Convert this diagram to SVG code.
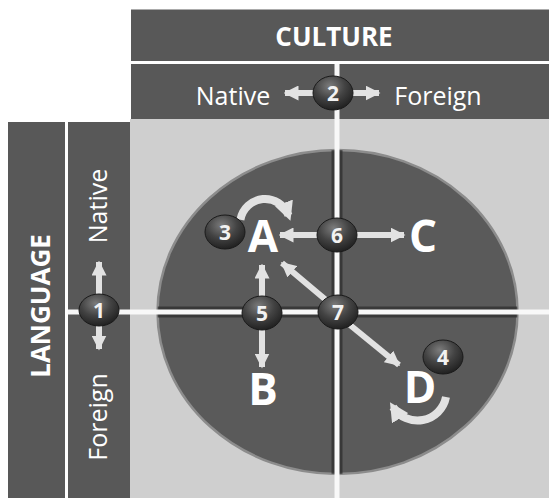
<svg xmlns="http://www.w3.org/2000/svg" width="549" height="498" viewBox="0 0 549 498">
  <defs>
    <radialGradient id="ball" cx="42%" cy="30%" r="75%">
      <stop offset="0" stop-color="#7c7c7c"/>
      <stop offset="0.5" stop-color="#434343"/>
      <stop offset="1" stop-color="#1c1c1c"/>
    </radialGradient>
    <marker id="head" viewBox="0 0 10 10" refX="9" refY="5" markerWidth="15" markerHeight="15" markerUnits="userSpaceOnUse" orient="auto">
      <path d="M0,0 L10,5 L0,10 Z" fill="#e2e2e2"/>
    </marker>
    <marker id="headBig" viewBox="0 0 10 10" refX="7" refY="5" markerWidth="19" markerHeight="19" markerUnits="userSpaceOnUse" orient="auto">
      <path d="M0,0 L10,5 L0,10 Z" fill="#e2e2e2"/>
    </marker>
    <clipPath id="disc">
      <ellipse cx="337.5" cy="312" rx="180" ry="162"/>
    </clipPath>
  </defs>
  <style>
    .bar{fill:#585858}
    .txt{font-family:"Open Sans","DejaVu Sans",sans-serif;fill:#ffffff;text-anchor:middle}
    .hdr{font-weight:700;font-size:26px}
    .lbl{font-size:25px}
    .big{font-weight:700;font-size:44px}
    .num{font-weight:700;font-size:21px;fill:#f2f2f2}
    .ball{fill:url(#ball);stroke:#1a1a1a;stroke-width:1}
    .arr{stroke:#e2e2e2;stroke-width:6;fill:none;marker-end:url(#head)}
    .loop{stroke:#e2e2e2;stroke-width:8;fill:none;marker-end:url(#headBig)}
    .rule{stroke:#f8f8f8;stroke-width:5}
    .shade{stroke:#2e2e2e;stroke-width:11;opacity:0.75}
  </style>

  <!-- page background and grey field -->
  <rect width="549" height="498" fill="#ffffff"/>
  <rect x="130" y="119" width="419" height="379" fill="#cfcfcf"/>

  <!-- header bars -->
  <g id="culture-header">
    <rect class="bar" x="131" y="9.5" width="418" height="51.5"/>
    <text class="txt hdr" x="334" y="46">CULTURE</text>
  </g>
  <g id="culture-axis">
    <rect class="bar" x="131" y="64" width="418" height="55"/>
    <text class="txt lbl" x="233" y="105">Native</text>
    <text class="txt lbl" x="438" y="105">Foreign</text>
  </g>
  <g id="language-header">
    <rect class="bar" x="8" y="122" width="57" height="376"/>
    <text class="txt hdr" transform="translate(50,306) rotate(-90)">LANGUAGE</text>
  </g>
  <g id="language-axis">
    <rect class="bar" x="68" y="122" width="62" height="376"/>
    <text class="txt lbl" transform="translate(107,206) rotate(-90)">Native</text>
    <text class="txt lbl" transform="translate(107,417) rotate(-90)">Foreign</text>
  </g>

  <!-- quadrant disc -->
  <g id="disc-quadrants">
    <ellipse cx="337.5" cy="312" rx="180" ry="162" fill="#5a5a5a" stroke="#8c8c8c" stroke-width="2.5"/>
    <g clip-path="url(#disc)">
      <line class="shade" x1="150" y1="312" x2="530" y2="312"/>
      <line class="shade" x1="337" y1="140" x2="337" y2="490"/>
    </g>
  </g>

  <!-- axis rules -->
  <g id="rules">
    <line class="rule" x1="68" y1="312" x2="549" y2="312"/>
    <line class="rule" x1="337" y1="64" x2="337" y2="498"/>
  </g>

  <!-- connectors -->
  <g id="connectors">
    <line class="arr" x1="314" y1="93" x2="285" y2="93"/>
    <line class="arr" x1="352" y1="93" x2="379" y2="93"/>
    <line class="arr" x1="99" y1="296" x2="99" y2="262"/>
    <line class="arr" x1="99" y1="324" x2="99" y2="349"/>
    <line class="arr" x1="318" y1="235" x2="280" y2="235"/>
    <line class="arr" x1="356" y1="235" x2="404" y2="235"/>
    <line class="arr" x1="262" y1="297" x2="262" y2="265"/>
    <line class="arr" x1="262" y1="328" x2="262" y2="367"/>
    <line class="arr" x1="326" y1="300" x2="282" y2="263"/>
    <line class="arr" x1="350" y1="325" x2="399" y2="365"/>
    <path class="loop" d="M240.4,219.7 A25,25 0 0 1 288.5,215.4"/>
    <path class="loop" d="M446,397 A29,29 0 0 1 393,407"/>
  </g>

  <!-- letter nodes -->
  <g id="node-A"><text class="txt big" x="263" y="252">A</text></g>
  <g id="node-B"><text class="txt big" x="263" y="405">B</text></g>
  <g id="node-C"><text class="txt big" x="423" y="252">C</text></g>
  <g id="node-D"><text class="txt big" x="420" y="403">D</text></g>

  <!-- numbered badges -->
  <g id="badge-1">
    <ellipse class="ball" cx="99" cy="310" rx="20" ry="16"/>
    <text class="txt num" x="99" y="317.5">1</text>
  </g>
  <g id="badge-2">
    <ellipse class="ball" cx="333" cy="93" rx="20" ry="17"/>
    <text class="txt num" x="333" y="100.5">2</text>
  </g>
  <g id="badge-3">
    <ellipse class="ball" cx="225" cy="232" rx="20" ry="17"/>
    <text class="txt num" x="225" y="239.5">3</text>
  </g>
  <g id="badge-4">
    <ellipse class="ball" cx="443" cy="357" rx="20" ry="17"/>
    <text class="txt num" x="443" y="364.5">4</text>
  </g>
  <g id="badge-5">
    <ellipse class="ball" cx="262" cy="313" rx="20" ry="17"/>
    <text class="txt num" x="262" y="320.5">5</text>
  </g>
  <g id="badge-6">
    <ellipse class="ball" cx="337" cy="235" rx="20" ry="17"/>
    <text class="txt num" x="337" y="242.5">6</text>
  </g>
  <g id="badge-7">
    <ellipse class="ball" cx="338" cy="312" rx="20" ry="17"/>
    <text class="txt num" x="338" y="319.5">7</text>
  </g>
</svg>
